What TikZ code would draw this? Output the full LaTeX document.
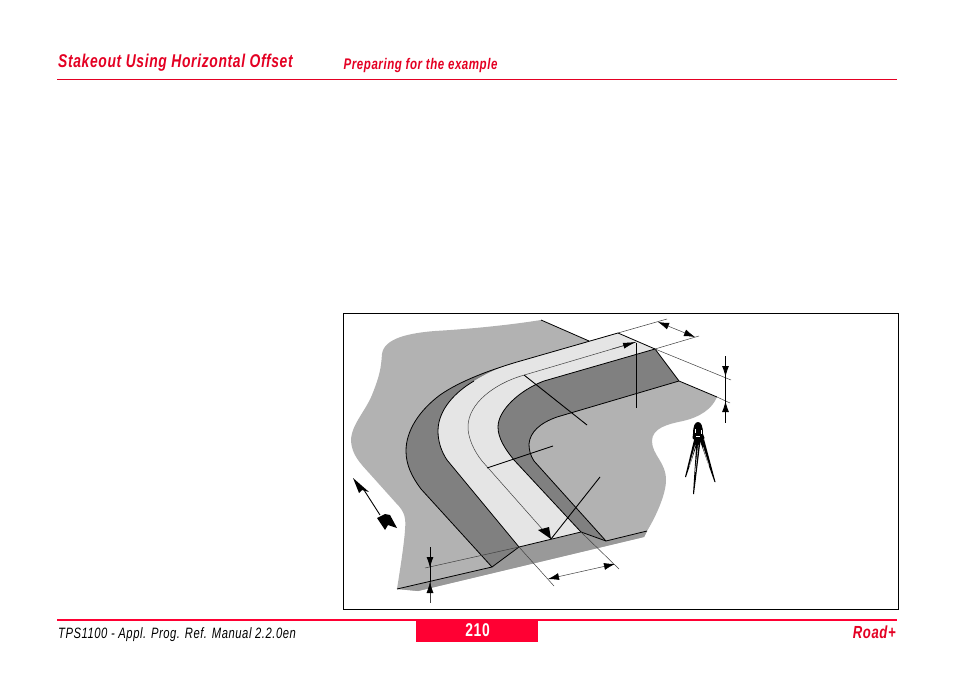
\documentclass[tikz,border=0pt]{standalone}
\usepackage{fontspec}
\setmainfont{Liberation Sans}
\newfontfamily\cond[FakeStretch=0.75,LetterSpace=3.5]{Liberation Sans}
\usetikzlibrary{arrows.meta}
\definecolor{redhead}{RGB}{228,0,35}
\definecolor{redbar}{RGB}{255,0,51}
\definecolor{ground}{RGB}{178,178,178}
\definecolor{slope}{RGB}{128,128,128}
\definecolor{band}{RGB}{153,153,153}
\definecolor{road}{RGB}{229,229,229}
\tikzset{
  edge/.style={black,line width=0.8pt,line join=round},
  thin line/.style={black!75,line width=0.5pt},
  leader/.style={black,line width=0.9pt},
  tipb/.tip={Latex[length=11pt,width=7pt,color=black]},
  head/.style={text=redhead,anchor=base west,inner sep=0pt},
}
\begin{document}
\begin{tikzpicture}[x=1pt,y=-1pt]
\useasboundingbox (0,0) rectangle (954,674);
\fill[white] (0,0) rectangle (954,674);
% header
\node[head,font=\cond\bfseries\itshape\fontsize{18.5}{22}\selectfont] (title) at (58,67.5) {Stakeout Using Horizontal Offset};
\node[head,font=\cond\bfseries\itshape\fontsize{15.4}{18}\selectfont] (sub) at (343.5,69.3) {Preparing for the example};
\draw[redhead,line width=0.7pt] (57,79.5) -- (897,79.5);
% footer
\fill[redbar] (416,620) rectangle (538,642);
\draw[redbar,line width=1.5pt] (57,620) -- (897,620);
\node[anchor=base west,inner sep=0pt,font=\cond\itshape\fontsize{15}{18}\selectfont] (manual) at (58,638.5) {TPS1100 - Appl. Prog. Ref. Manual 2.2.0en};
\node[anchor=base,inner sep=0pt,text=white,font=\cond\bfseries\fontsize{18.5}{22}\selectfont] (page) at (477.5,636) {210};
\node[head,anchor=base east,font=\cond\bfseries\itshape\fontsize{17.5}{20}\selectfont] (road) at (896,638) {Road+};
% frame
\draw[black,line width=0.8pt] (343.5,313.5) rectangle (898.5,609.5);
% ground
\fill[ground] (541,320) .. controls (510,325) and (470,329) .. (435,331)
  .. controls (410,333) and (384,338) .. (382,354)
  .. controls (381,368) and (380,375) .. (372,395)
  .. controls (365,412) and (351,425) .. (351,441)
  .. controls (352,455) and (360,463) .. (370,474)
  -- (396,503) .. controls (405,512) and (406,518) .. (405,530)
  .. controls (404,545) and (400,570) .. (397,589)
  -- (418,591) -- (644,537) -- (647,531)
  .. controls (655,518) and (666,495) .. (666,480)
  .. controls (666,462) and (652,455) .. (652,441)
  .. controls (652,428) and (668,424) .. (683,421)
  .. controls (700,417) and (712,409) .. (717,397)
  -- (679,381) -- (655,349) -- (618,333) -- (589,341) -- cycle;
% band below the road edge
\fill[band] (397,589) -- (492,567) -- (519,547) -- (581,532) -- (606,541) -- (647,531) -- (644,537) -- (418,591) -- cycle;
% left slope
\fill[slope] (618,333) -- (517,362) .. controls (490,370) and (460,381) .. (440,395)
  .. controls (420,410) and (406,430) .. (406,451)
  .. controls (406,465) and (412,477) .. (421,489)
  -- (492,567) -- (519,547) -- (447,460)
  .. controls (440,450) and (438,440) .. (438,431)
  .. controls (438,410) and (455,392) .. (474,381)
  -- (520,363) -- cycle;
% road
\fill[road] (618,333) -- (517,362) .. controls (500,367) and (487,373) .. (474,381)
  .. controls (455,392) and (438,410) .. (438,431)
  .. controls (438,441) and (441,451) .. (447,460)
  -- (519,547) -- (581,532) -- (514,460)
  .. controls (505,449) and (498,438) .. (498,427)
  .. controls (498,410) and (520,390) .. (544,381)
  -- (655,349) -- cycle;
% right slope
\fill[slope] (655,349) -- (544,381) .. controls (520,390) and (498,410) .. (498,427)
  .. controls (498,438) and (505,449) .. (514,460)
  -- (581,532) -- (606,541) -- (534,461)
  .. controls (530,455) and (529,449) .. (529,444)
  .. controls (530,432) and (540,423) .. (557,417)
  -- (679,381) -- cycle;
% outlines
\draw[edge] (541,320) -- (589,341);
\draw[edge] (618,333) -- (517,362) .. controls (490,370) and (460,381) .. (440,395)
  .. controls (420,410) and (406,430) .. (406,451)
  .. controls (406,465) and (412,477) .. (421,489) -- (492,567) -- (397,589);
\draw[edge] (474,381) .. controls (455,392) and (438,410) .. (438,431)
  .. controls (438,441) and (441,451) .. (447,460) -- (519,547);
\draw[edge] (655,349) -- (544,381) .. controls (520,390) and (498,410) .. (498,427)
  .. controls (498,438) and (505,449) .. (514,460) -- (581,532);
\draw[edge] (679,381) -- (557,417) .. controls (540,423) and (530,432) .. (529,444)
  .. controls (529,449) and (530,455) .. (534,461) -- (606,541) -- (647,531);
\draw[edge] (492,567) -- (519,547) -- (581,532) -- (606,541);
\draw[edge] (618,333) -- (655,349) -- (679,381) -- (717,397);
% centre line
\draw[thin line] (636,342) -- (521,376) .. controls (495,384) and (468,403) .. (468,427)
  .. controls (468,438) and (474,451) .. (482,461) -- (551,539);
% extension lines
\coordinate (cTop) at (618,333);
\coordinate (iTop) at (655,349);
\coordinate (rTop) at (717,397);
\coordinate (rL) at (519,547);
\coordinate (rR) at (581,532);
\draw[thin line] (cTop) -- (667,319);
\draw[thin line] (iTop) -- (699,336);
\draw[thin line] (iTop) -- (731,380);
\draw[thin line] (rTop) -- (730,403);
\draw[thin line] (rL) -- (554,586);
\draw[thin line] (rR) -- (619,569);
\draw[thin line] (rL) -- (425,568);
% dimension arrows
\draw[thin line,tipb-tipb] (658,322) -- (695,337);
\draw[thin line,tipb-tipb] (548,579) -- (615,564);
\draw[leader] (725.5,356) -- (725.5,423);
\draw[leader,-tipb] (725.5,360) -- (725.5,377);
\draw[leader,-tipb] (725.5,418) -- (725.5,401);
\draw[leader] (430,547) -- (430,582);
\draw[thin line] (430,582) -- (430,603);
\draw[leader,-tipb] (430,550) -- (430,568);
\draw[thin line,-tipb] (430,600) -- (430,582);
% centre arrow and leaders
\draw[thin line,-{Latex[length=13pt,width=6pt,color=black]}] (612,349) -- (636,342);
\draw[leader] (636,343) -- (636,408);
\draw[leader] (524,375) -- (587,425);
\draw[leader] (487,468) -- (553,446);
\draw[leader] (600,477) -- (551,539);
\fill[black] (551,539) -- (538,530) -- (549,527) -- cycle;
% north arrow
\fill[black] (353,478) -- (369,492) -- (362,490) -- (359,493) -- cycle;
\draw[leader] (364,490) -- (380,515);
\fill[black] (377,518) -- (385,514) -- (390,515) -- (397,528) -- (388,525) -- (385,530) -- cycle;
% instrument on tripod
\begin{scope}[line join=round]
\fill[black] (693,434) .. controls (693,426) and (695,422) .. (698,422)
  .. controls (701,422) and (703,426) .. (703,434) -- (704.5,438) -- (701,442) -- (696,442) -- (692.5,438) -- cycle;
\fill[white] (695,429) rectangle (695.8,433);
\fill[white] (701,430) rectangle (701.8,434);
\fill[white] (696,436) rectangle (700,436.7);
\fill[black] (694,440) -- (698,441) -- (686,477) -- (685,477) -- cycle;
\fill[black] (700,441) -- (704,439) -- (715.5,482) -- (714.5,482) -- cycle;
\fill[black] (696.5,441) -- (700.5,441) -- (694,494) -- (693,494) -- cycle;
\draw[white,line width=0.4pt] (695.3,445) -- (689.5,466);
\draw[white,line width=0.4pt] (698.3,445) -- (695.3,472);
\draw[white,line width=0.4pt] (703,447) -- (709,466);
\end{scope}
\end{tikzpicture}
\end{document}
